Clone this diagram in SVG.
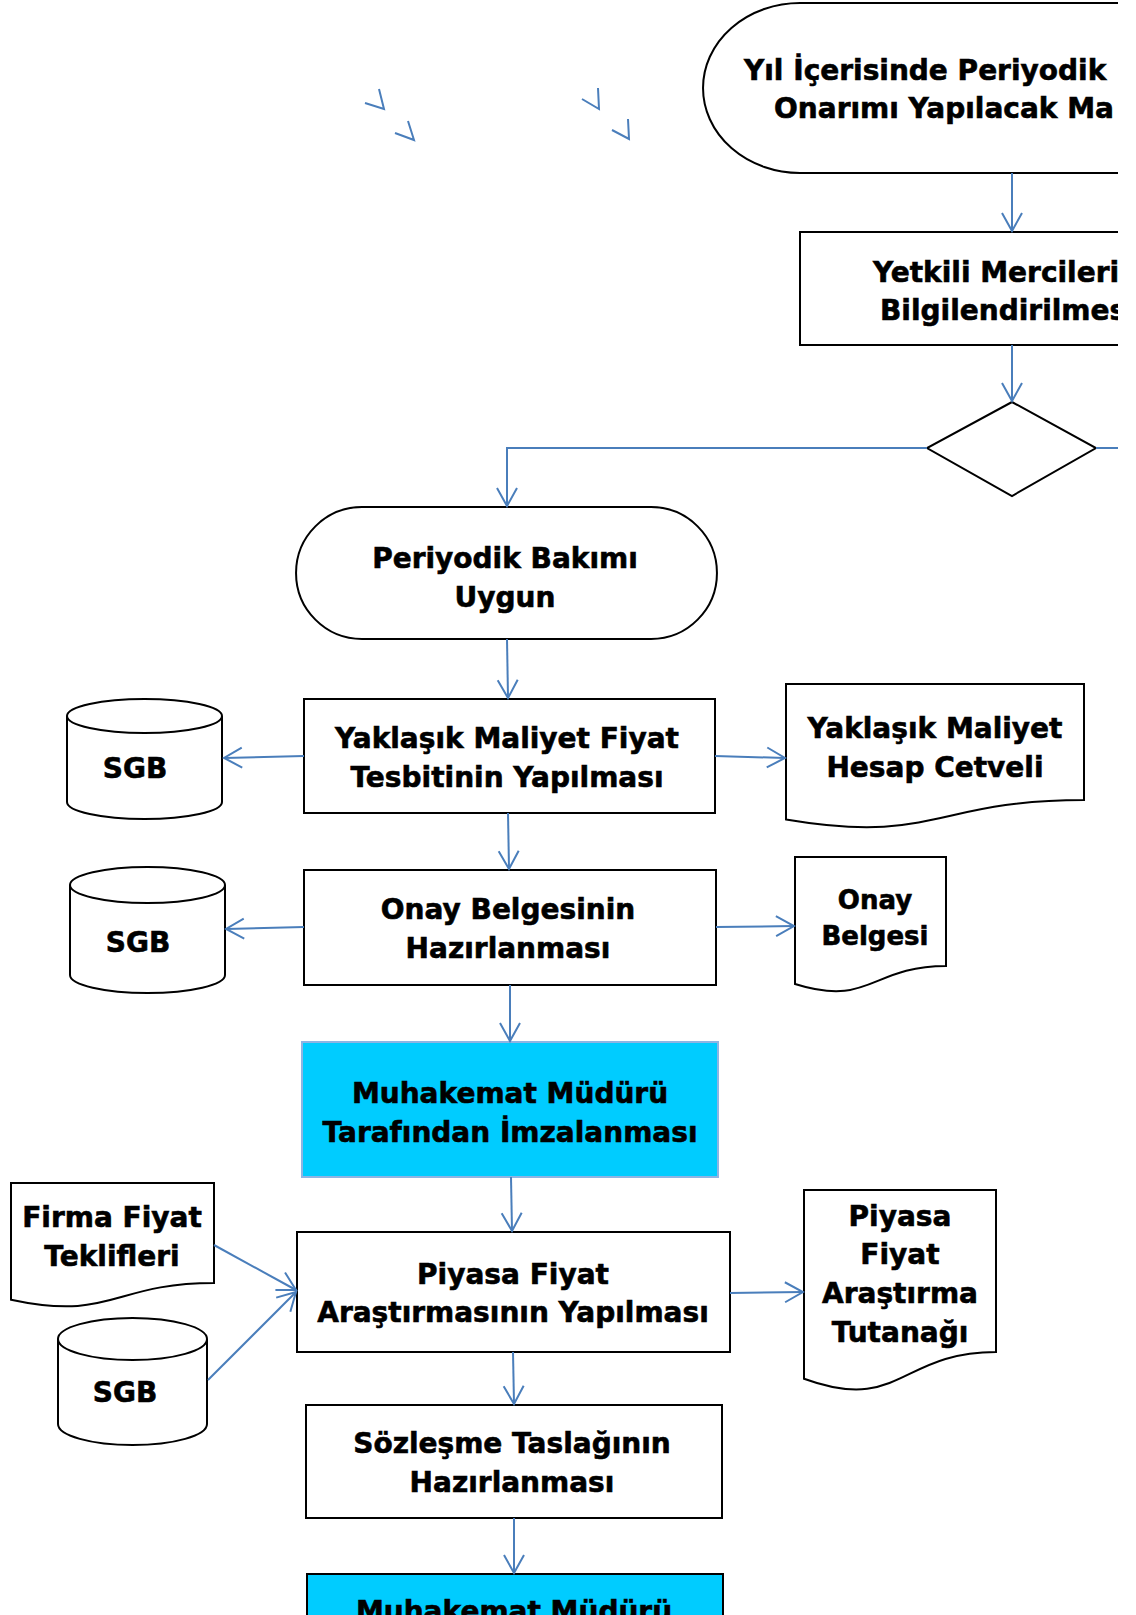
<svg xmlns="http://www.w3.org/2000/svg" width="1136" height="1615" viewBox="0 0 1136 1615">
<style>
.shape{fill:#fff;stroke:#000;stroke-width:2}
.cyan{fill:#00CCFF;stroke:#8EB4E3;stroke-width:2}
.cyan2{fill:#00CCFF;stroke:#000;stroke-width:2}
.t{font-family:"DejaVu Sans","Liberation Sans",sans-serif;font-weight:bold;font-size:28px;fill:#000;stroke:#000;stroke-width:0.6;text-anchor:middle}
.ts{text-anchor:start}
.sm{font-size:26px}
.c{fill:none;stroke:#4A7EBB;stroke-width:2}
</style>
<defs>
<marker id="ah" markerUnits="userSpaceOnUse" viewBox="-20 -12 22 24" refX="0" refY="0" markerWidth="22" markerHeight="24" orient="auto">
<path d="M-18,-10 L0,0 L-18,10" fill="none" stroke="#4A7EBB" stroke-width="2"/>
</marker>
<clipPath id="clip"><rect x="0" y="0" width="1118" height="1615"/></clipPath>
</defs>
<rect width="1136" height="1615" fill="#fff"/>
<g clip-path="url(#clip)">
<g id="stray">
<polyline class="c" points="365,103 384,109 379,89"/>
<polyline class="c" points="395,133 414,140 408,121"/>
<polyline class="c" points="582,99 599,109 598,88"/>
<polyline class="c" points="612,130 629,139 628,119"/>
</g>
<g id="n-start">
<path class="shape" d="M1140,3 H800 A97,85 0 0 0 800,173 H1140"/>
<text class="t ts" x="744" y="80">Yıl İçerisinde Periyodik</text>
<text class="t ts" x="774" y="118">Onarımı Yapılacak Ma</text>
</g>
<g id="n-yetkili">
<rect class="shape" x="800" y="232" width="340" height="113"/>
<text class="t ts" x="873" y="282">Yetkili Mercileri</text>
<text class="t ts" x="880" y="320">Bilgilendirilmes</text>
</g>
<g id="n-decision">
<polygon class="shape" points="1012,402 1096,448 1012,496 927,448"/>
</g>
<g id="n-uygun">
<path class="shape" d="M362,507 H651 A66,66 0 0 1 651,639 H362 A66,66 0 0 1 362,507 Z"/>
<text class="t" x="505" y="568">Periyodik Bakımı</text>
<text class="t" x="505" y="607">Uygun</text>
</g>
<g id="n-yaklasik">
<rect class="shape" x="304" y="699" width="411" height="114"/>
<text class="t" x="507" y="748">Yaklaşık Maliyet Fiyat</text>
<text class="t" x="507" y="787">Tesbitinin Yapılması</text>
</g>
<g id="n-sgb1">
<path class="shape" d="M67,716 A77.5,17 0 0 1 222,716 V802 A77.5,17 0 0 1 67,802 Z"/>
<path class="shape" fill="none" d="M67,716 A77.5,17 0 0 0 222,716"/>
<text class="t" x="135" y="778">SGB</text>
</g>
<g id="n-cetvel">
<path class="shape" d="M786,684 H1084 V800 C935,800 935,844.7 786,819.4 Z"/>
<text class="t" x="935" y="738">Yaklaşık Maliyet</text>
<text class="t" x="935" y="777">Hesap Cetveli</text>
</g>
<g id="n-onay">
<rect class="shape" x="304" y="870" width="412" height="115"/>
<text class="t" x="508" y="919">Onay Belgesinin</text>
<text class="t" x="508" y="958">Hazırlanması</text>
</g>
<g id="n-sgb2">
<path class="shape" d="M70,885 A77.5,18 0 0 1 225,885 V975 A77.5,18 0 0 1 70,975 Z"/>
<path class="shape" fill="none" d="M70,885 A77.5,18 0 0 0 225,885"/>
<text class="t" x="138" y="952">SGB</text>
</g>
<g id="n-onaybelgesi">
<path class="shape" d="M795,857 H946 V966 C870.5,966 870.5,1007.7 795,984 Z"/>
<text class="t sm" x="875" y="909">Onay</text>
<text class="t sm" x="875" y="945">Belgesi</text>
</g>
<g id="n-imza">
<rect class="cyan" x="302" y="1042" width="416" height="135"/>
<text class="t" x="510" y="1103">Muhakemat Müdürü</text>
<text class="t" x="510" y="1142">Tarafından İmzalanması</text>
</g>
<g id="n-firma">
<path class="shape" d="M11,1183 H214 V1283 C112.5,1283 112.5,1321.5 11,1299.7 Z"/>
<text class="t" x="112" y="1227">Firma Fiyat</text>
<text class="t" x="112" y="1266">Teklifleri</text>
</g>
<g id="n-sgb3">
<path class="shape" d="M58,1339 A74.5,21 0 0 1 207,1339 V1424 A74.5,21 0 0 1 58,1424 Z"/>
<path class="shape" fill="none" d="M58,1339 A74.5,21 0 0 0 207,1339"/>
<text class="t" x="125" y="1402">SGB</text>
</g>
<g id="n-piyasa">
<rect class="shape" x="297" y="1232" width="433" height="120"/>
<text class="t" x="513" y="1284">Piyasa Fiyat</text>
<text class="t" x="513" y="1322">Araştırmasının Yapılması</text>
</g>
<g id="n-tutanak">
<path class="shape" d="M804,1190 H996 V1352 C900,1352 900,1413.8 804,1378.7 Z"/>
<text class="t" x="900" y="1226">Piyasa</text>
<text class="t" x="900" y="1264">Fiyat</text>
<text class="t" x="900" y="1303">Araştırma</text>
<text class="t" x="900" y="1342">Tutanağı</text>
</g>
<g id="n-sozlesme">
<rect class="shape" x="306" y="1405" width="416" height="113"/>
<text class="t" x="512" y="1453">Sözleşme Taslağının</text>
<text class="t" x="512" y="1492">Hazırlanması</text>
</g>
<g id="n-imza2">
<rect class="cyan2" x="307" y="1574" width="416" height="60"/>
<text class="t" x="514" y="1621">Muhakemat Müdürü</text>
</g>
<g id="connectors">
<line class="c" x1="1012" y1="173" x2="1012" y2="231" marker-end="url(#ah)"/>
<line class="c" x1="1012" y1="345" x2="1012" y2="401" marker-end="url(#ah)"/>
<polyline class="c" points="927,448 507,448 507,506" marker-end="url(#ah)"/>
<line class="c" x1="1096" y1="448" x2="1130" y2="448"/>
<line class="c" x1="507" y1="639" x2="508" y2="698" marker-end="url(#ah)"/>
<line class="c" x1="508" y1="813" x2="509" y2="869" marker-end="url(#ah)"/>
<line class="c" x1="304" y1="756" x2="224" y2="758" marker-end="url(#ah)"/>
<line class="c" x1="715" y1="756" x2="785" y2="758" marker-end="url(#ah)"/>
<line class="c" x1="304" y1="927" x2="226" y2="929" marker-end="url(#ah)"/>
<line class="c" x1="716" y1="927" x2="794" y2="926" marker-end="url(#ah)"/>
<line class="c" x1="510" y1="985" x2="510" y2="1041" marker-end="url(#ah)"/>
<line class="c" x1="511" y1="1177" x2="512" y2="1231" marker-end="url(#ah)"/>
<line class="c" x1="214" y1="1245" x2="296" y2="1290" marker-end="url(#ah)"/>
<line class="c" x1="208" y1="1380" x2="296" y2="1292" marker-end="url(#ah)"/>
<line class="c" x1="730" y1="1293" x2="803" y2="1292" marker-end="url(#ah)"/>
<line class="c" x1="513" y1="1352" x2="514" y2="1404" marker-end="url(#ah)"/>
<line class="c" x1="514" y1="1518" x2="514" y2="1573" marker-end="url(#ah)"/>
</g>
</g>
</svg>
